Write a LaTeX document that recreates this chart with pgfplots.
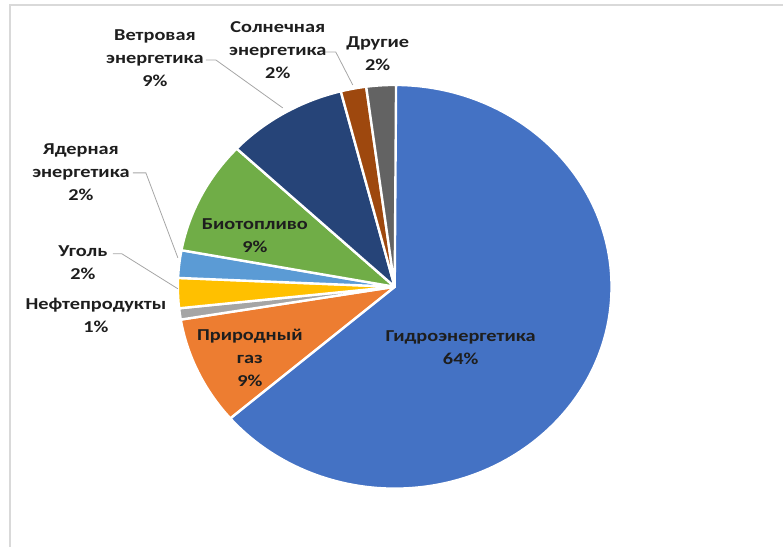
\documentclass[border=0pt]{standalone}
\usepackage{pgfplots}
\usepackage{pgfplotstable}
\pgfplotsset{compat=1.18}
\usepackage{fontspec}
\setmainfont{Carlito}[FakeStretch=1.22]

\definecolor{c0}{HTML}{4472C4}
\definecolor{c1}{HTML}{ED7D31}
\definecolor{c2}{HTML}{A5A5A5}
\definecolor{c3}{HTML}{FFC000}
\definecolor{c4}{HTML}{5B9BD5}
\definecolor{c5}{HTML}{70AD47}
\definecolor{c6}{HTML}{264478}
\definecolor{c7}{HTML}{9E480E}
\definecolor{c8}{HTML}{636363}
\definecolor{txt}{HTML}{1E1E1E}
\definecolor{lead}{HTML}{A6A6A6}
\definecolor{frame}{HTML}{D9D9D9}

% shares in percent, clockwise from 12 o'clock
\pgfplotstableread[col sep=comma]{
name,value,col
Гидроэнергетика,63.7,c0
Природный газ,8.7,c1
Нефтепродукты,0.9,c2
Уголь,2.4,c3
Ядерная энергетика,2.2,c4
Биотопливо,9.1,c5
Ветровая энергетика,9.0,c6
Солнечная энергетика,1.9,c7
Другие,2.2,c8
}\piedata

\gdef\cum{0}
\foreach \i in {0,...,8}{%
  \pgfplotstablegetelem{\i}{value}\of\piedata
  \let\v\pgfplotsretval
  \pgfmathsetmacro\st{90-3.6*\cum}%
  \pgfmathsetmacro\en{90-3.6*(\cum+\v)}%
  \pgfmathsetmacro\nc{\cum+\v}%
  \xdef\cum{\nc}%
  \expandafter\xdef\csname pst\i\endcsname{\st}%
  \expandafter\xdef\csname pen\i\endcsname{\en}%
  \pgfplotstablegetelem{\i}{col}\of\piedata
  \expandafter\xdef\csname pcol\i\endcsname{\pgfplotsretval}%
}

\begin{document}
\begin{tikzpicture}
\begin{axis}[
  scale only axis, width=588pt, height=410.25pt,
  xmin=0, xmax=784, ymin=0, ymax=547,
  hide axis, clip=false,
]
\path (axis cs:0,0) rectangle (axis cs:784,547);
% chart area frame
\draw[frame, line width=0.9pt] (axis cs:10,0) -- (axis cs:10,542) -- (axis cs:784,542);

\pgfplotsinvokeforeach{0,...,8}{%
  \edef\tmp{\noexpand\fill[\csname pcol#1\endcsname, draw=white, line width=1.8pt, line join=round]
    (axis cs:395,260) -- (axis cs:{395+217*cos(\csname pst#1\endcsname)},{260+202*sin(\csname pst#1\endcsname)})
    arc[start angle=\csname pst#1\endcsname, end angle=\csname pen#1\endcsname, x radius=162.75pt, y radius=151.5pt] -- cycle;}%
  \tmp
}

% leader lines
\draw[lead, line width=0.6pt] (axis cs:133,374) -- (axis cs:146,374) -- (axis cs:178,289);
\draw[lead, line width=0.6pt] (axis cs:113,293) -- (axis cs:122,293) -- (axis cs:178,258);
\draw[lead, line width=0.6pt] (axis cs:206,487) -- (axis cs:216,487) -- (axis cs:283,439);
\draw[lead, line width=0.6pt] (axis cs:324,495) -- (axis cs:336,495) -- (axis cs:353,462);

\tikzset{lbl/.style={font=\fontsize{12.5}{17.25}\selectfont\bfseries, text=txt, align=center, inner sep=0pt}}
\node[lbl] at (axis cs:461,199) {Гидроэнергетика\\64\%};
\node[lbl] at (axis cs:250,189) {Природный\\газ\\9\%};
\node[lbl] at (axis cs:96,231.5) {Нефтепродукты\\1\%};
\node[lbl] at (axis cs:83,284.5) {Уголь\\2\%};
\node[lbl] at (axis cs:81,375) {Ядерная\\энергетика\\2\%};
\node[lbl] at (axis cs:255,311.5) {Биотопливо\\9\%};
\node[lbl] at (axis cs:155,489) {Ветровая\\энергетика\\9\%};
\node[lbl] at (axis cs:278,497) {Солнечная\\энергетика\\2\%};
\node[lbl] at (axis cs:378,493.5) {Другие\\2\%};
\end{axis}
\end{tikzpicture}
\end{document}
